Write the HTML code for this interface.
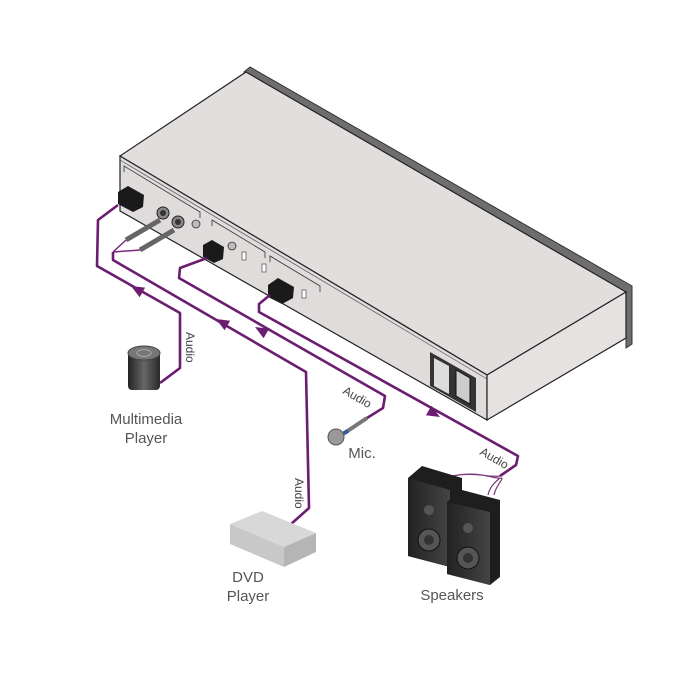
<!DOCTYPE html>
<html><head><style>
html,body{margin:0;padding:0;background:#fff;}
svg{display:block;}
text{font-family:"Liberation Sans",sans-serif;}
</style></head><body>
<svg width="680" height="680" viewBox="0 0 680 680" xmlns="http://www.w3.org/2000/svg">
<defs>
<linearGradient id="spk" x1="0" x2="1"><stop offset="0" stop-color="#222"/><stop offset="1" stop-color="#444"/></linearGradient>
<linearGradient id="cyl" x1="0" x2="1"><stop offset="0" stop-color="#222"/><stop offset="0.5" stop-color="#666"/><stop offset="1" stop-color="#2a2a2a"/></linearGradient>
</defs>
<!-- device rim -->
<polygon points="244,72 250,67 632,286 632,344 626,348 626,292" fill="#6e6e6e" stroke="#333" stroke-width="1"/>
<polygon points="120,156 246,72 626,292 487,375" fill="#e2dede" stroke="#222" stroke-width="1.2"/>
<polygon points="120,156 487,375 487,420 120,211" fill="#e0dcdc" stroke="#222" stroke-width="1.2"/>
<line x1="120" y1="160" x2="487" y2="379" stroke="#555" stroke-width="0.7"/>
<polygon points="487,375 626,292 626,338 487,420" fill="#e6e2e2" stroke="#222" stroke-width="1.2"/>
<polyline points="124,172 124,166 200,212 200,218" fill="none" stroke="#333" stroke-width="0.8"/>
<polyline points="212,226 212,220 265,252 265,258" fill="none" stroke="#333" stroke-width="0.8"/>
<polyline points="270,262 270,256 320,286 320,292" fill="none" stroke="#333" stroke-width="0.8"/>
<circle cx="196" cy="224" r="4" fill="#bbb" stroke="#333" stroke-width="0.8"/>
<circle cx="232" cy="246" r="4" fill="#bbb" stroke="#333" stroke-width="0.8"/>
<rect x="242" y="252" width="4" height="8" fill="#fff" stroke="#333" stroke-width="0.6"/>
<rect x="262" y="264" width="4" height="8" fill="#fff" stroke="#333" stroke-width="0.6"/>
<rect x="302" y="290" width="4" height="8" fill="#fff" stroke="#333" stroke-width="0.6"/>
<circle cx="163" cy="213" r="6" fill="#888" stroke="#222" stroke-width="1"/><circle cx="163" cy="213" r="3" fill="#333"/>
<circle cx="178" cy="222" r="6" fill="#888" stroke="#222" stroke-width="1"/><circle cx="178" cy="222" r="3" fill="#333"/>
<polygon points="118,192 128,186 144,195 143,207 133,212 118,204" fill="#1a1a1a"/>
<polygon points="203,245 212,240 224,247 223,259 214,263 203,257" fill="#1a1a1a"/>
<polygon points="268,285 278,278 294,287 293,298 282,304 268,297" fill="#1a1a1a"/>
<polygon points="430,352 476,378 476,412 430,386" fill="#333"/>
<polygon points="434,358 449,366 449,394 434,386" fill="#ddd"/>
<polygon points="456,370 470,378 470,404 456,396" fill="#ccc" stroke="#111"/>
<line x1="126" y1="240" x2="160" y2="220" stroke="#666" stroke-width="5"/>
<line x1="140" y1="250" x2="174" y2="230" stroke="#666" stroke-width="5"/>
<line x1="113" y1="252" x2="126" y2="240" stroke="#7a2a7a" stroke-width="1.5"/>
<line x1="113" y1="252" x2="140" y2="250" stroke="#7a2a7a" stroke-width="1.5"/>
<g fill="none" stroke="#6b1d6f" stroke-width="2.6" stroke-linejoin="round">
<polyline points="118,205 98,220 97,266 180,313 180,368 160,383"/>
<polyline points="113,252 113,260 306,372 309,508 290,525"/>
<polyline points="207,258 180,268 179,278 385,396 383,408 367,418"/>
<polyline points="270,295 259,304 259,312 518,456 516,465 500,476"/>
</g>
<g fill="#6b1d6f">
<polygon points="8,0 -5,-5.5 -5,5.5" transform="translate(138,290) rotate(209.5)"/>
<polygon points="8,0 -5,-5.5 -5,5.5" transform="translate(223,323) rotate(210)"/>
<polygon points="8,0 -5,-5.5 -5,5.5" transform="translate(262,331) rotate(210)"/>
<polygon points="8,0 -5,-5.5 -5,5.5" transform="translate(433,413) rotate(30)"/>
</g>
<path d="M445,478 C470,470 490,478 500,476 M452,476 C480,470 495,480 502,478 M488,495 C490,485 498,480 500,478 M494,495 C496,485 503,480 502,478" stroke="#7a3a7a" stroke-width="1.2" fill="none"/>
<text font-size="12" fill="#444" transform="translate(186,332) rotate(90)">Audio</text>
<text font-size="12" fill="#444" transform="translate(295,478) rotate(90)">Audio</text>
<text font-size="12" fill="#444" transform="translate(342,393) rotate(30)">Audio</text>
<text font-size="12" fill="#444" transform="translate(479,454) rotate(30)">Audio</text>
<rect x="128" y="352" width="32" height="38" rx="4" fill="url(#cyl)"/>
<ellipse cx="144" cy="353" rx="16" ry="7" fill="#777" stroke="#444"/>
<ellipse cx="144" cy="353" rx="7" ry="3.5" fill="none" stroke="#aaa"/>
<text x="146" y="424" font-size="15" fill="#555" text-anchor="middle">Multimedia</text>
<text x="146" y="443" font-size="15" fill="#555" text-anchor="middle">Player</text>
<line x1="340" y1="436" x2="367" y2="418" stroke="#777" stroke-width="4"/>
<line x1="344" y1="433" x2="348" y2="431" stroke="#2a5aa0" stroke-width="4"/>
<circle cx="336" cy="437" r="8" fill="#999" stroke="#555"/>
<text x="362" y="458" font-size="15" fill="#555" text-anchor="middle">Mic.</text>
<polygon points="230,524 262,511 316,533 284,547" fill="#d8d8d8"/>
<polygon points="230,524 284,547 284,567 230,544" fill="#c8c8c8"/>
<polygon points="284,547 316,533 316,552 284,567" fill="#b5b5b5"/>
<text x="248" y="582" font-size="15" fill="#555" text-anchor="middle">DVD</text>
<text x="248" y="601" font-size="15" fill="#555" text-anchor="middle">Player</text>
<polygon points="408,478 422,466 462,478 462,560 450,567 408,556" fill="#1e1e1e"/>
<polygon points="450,490 450,567 408,556 408,478" fill="url(#spk)"/>
<circle cx="429" cy="540" r="11" fill="#555" stroke="#111"/>
<circle cx="429" cy="540" r="5" fill="#333"/>
<circle cx="429" cy="510" r="5" fill="#555"/>
<polygon points="447,502 462,490 500,500 500,577 490,585 447,574" fill="#1e1e1e"/>
<polygon points="490,512 490,585 447,574 447,502" fill="url(#spk)"/>
<circle cx="468" cy="558" r="11" fill="#555" stroke="#111"/>
<circle cx="468" cy="558" r="5" fill="#333"/>
<circle cx="468" cy="528" r="5" fill="#555"/>
<text x="452" y="600" font-size="15" fill="#555" text-anchor="middle">Speakers</text>
</svg>
</body></html>
